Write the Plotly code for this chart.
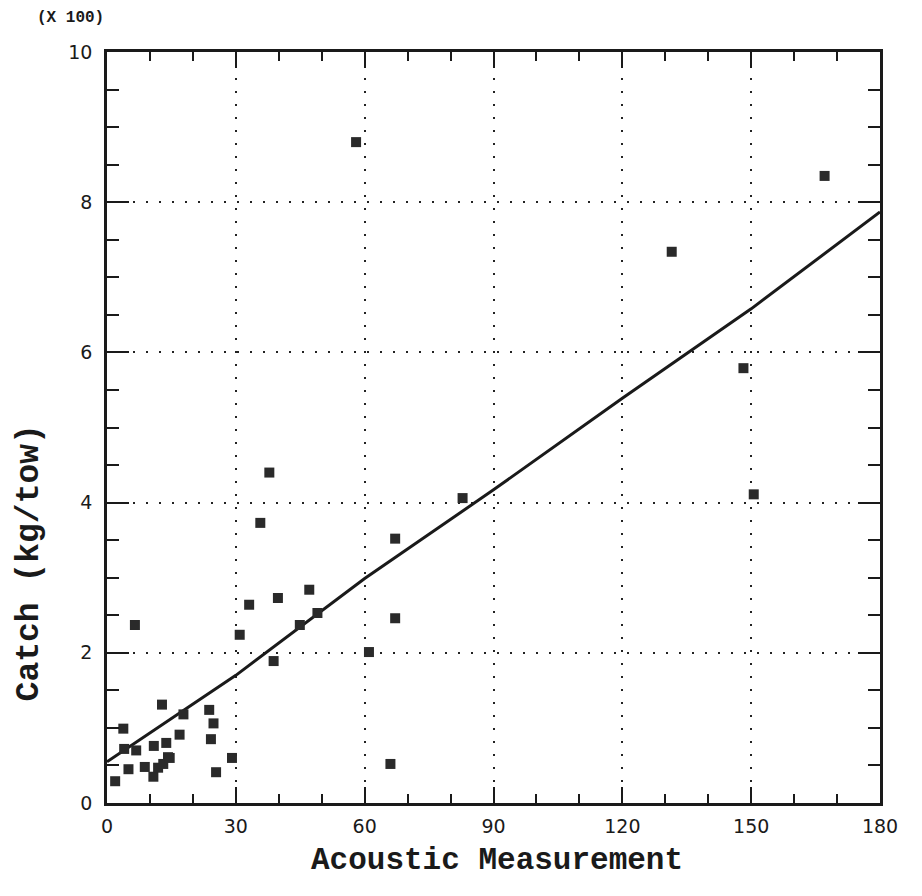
import plotly.graph_objects as go

# Scatter data (acoustic measurement vs catch, x100 kg/tow)
acoustic = [1.9, 3.8, 4.0, 5.0, 6.5, 6.8, 8.8, 10.8, 10.9, 11.9, 12.8, 13.1, 13.8, 14.2, 14.6,
            16.9, 17.8, 23.8, 24.8, 24.2, 25.4, 29.1, 30.9, 33.1, 35.7, 37.8, 38.8, 39.8,
            44.9, 47.1, 49.0, 58.0, 61.0, 66.0, 67.1, 67.1, 82.8, 131.5, 148.2, 150.6, 167.1]
catch = [0.29, 0.99, 0.72, 0.45, 2.37, 0.70, 0.48, 0.35, 0.76, 0.47, 1.31, 0.52, 0.80, 0.61, 0.60,
         0.91, 1.18, 1.24, 1.06, 0.85, 0.41, 0.60, 2.24, 2.64, 3.73, 4.40, 1.89, 2.73,
         2.37, 2.84, 2.53, 8.80, 2.01, 0.52, 3.52, 2.46, 4.06, 7.34, 5.79, 4.11, 8.35]

# Fitted line
fit_x = [0, 30, 60, 90, 120, 150, 180]
fit_y = [0.55, 1.70, 2.99, 4.17, 5.39, 6.58, 7.87]

x_ticks = [0, 30, 60, 90, 120, 150, 180]
y_ticks = [0, 2, 4, 6, 8, 10]

INK = "#1a1a1a"

fig = go.Figure()
fig.add_trace(go.Scatter(x=fit_x, y=fit_y, mode="lines",
                         line=dict(color=INK, width=3), showlegend=False))
fig.add_trace(go.Scatter(x=acoustic, y=catch, mode="markers",
                         marker=dict(symbol="square", size=10, color="#2a2a2a"),
                         showlegend=False))

tickfont = dict(family="DejaVu Sans", size=19, color=INK)
fig.update_xaxes(range=[0, 180], tickvals=x_ticks, ticktext=[str(v) for v in x_ticks],
                 showline=True, linecolor=INK, linewidth=2.5, mirror="allticks",
                 ticks="inside", ticklen=16, tickwidth=2, tickcolor=INK,
                 minor=dict(dtick=10, ticks="inside", ticklen=9, tickwidth=2, tickcolor=INK,
                            showgrid=False),
                 showgrid=True, gridcolor="#222", gridwidth=2, griddash="2px,11px",
                 zeroline=False, tickfont=tickfont, ticklabelstandoff=4, automargin=False)
fig.update_yaxes(range=[0, 10], tickvals=y_ticks, ticktext=[str(v) for v in y_ticks],
                 showline=True, linecolor=INK, linewidth=2.5, mirror="allticks",
                 ticks="inside", ticklen=22, tickwidth=2, tickcolor=INK,
                 minor=dict(dtick=0.5, ticks="inside", ticklen=12, tickwidth=2, tickcolor=INK,
                            showgrid=False),
                 showgrid=True, gridcolor="#222", gridwidth=2, griddash="2px,11px",
                 zeroline=False, tickfont=tickfont, ticklabelstandoff=8, automargin=False)

titlefont = dict(family="Liberation Mono", size=31, color=INK, weight="bold")
fig.add_annotation(text="Acoustic Measurement", xref="paper", yref="paper",
                   x=0.505, y=-0.077, xanchor="center", yanchor="middle",
                   showarrow=False, font=titlefont)
fig.add_annotation(text="Catch (kg/tow)", xref="paper", yref="paper",
                   x=-0.1, y=0.32, xanchor="center", yanchor="middle", textangle=-90,
                   showarrow=False, font=dict(titlefont, size=33))
fig.add_annotation(text="(X 100)", xref="paper", yref="paper", x=-0.093, y=1.045,
                   xanchor="left", yanchor="middle", showarrow=False,
                   font=dict(family="Liberation Mono", size=16, color=INK, weight="bold"))

fig.update_layout(width=922, height=896, plot_bgcolor="white", paper_bgcolor="white",
                  margin=dict(l=99, r=50, t=44, b=101))

fig.write_html("out.html")
